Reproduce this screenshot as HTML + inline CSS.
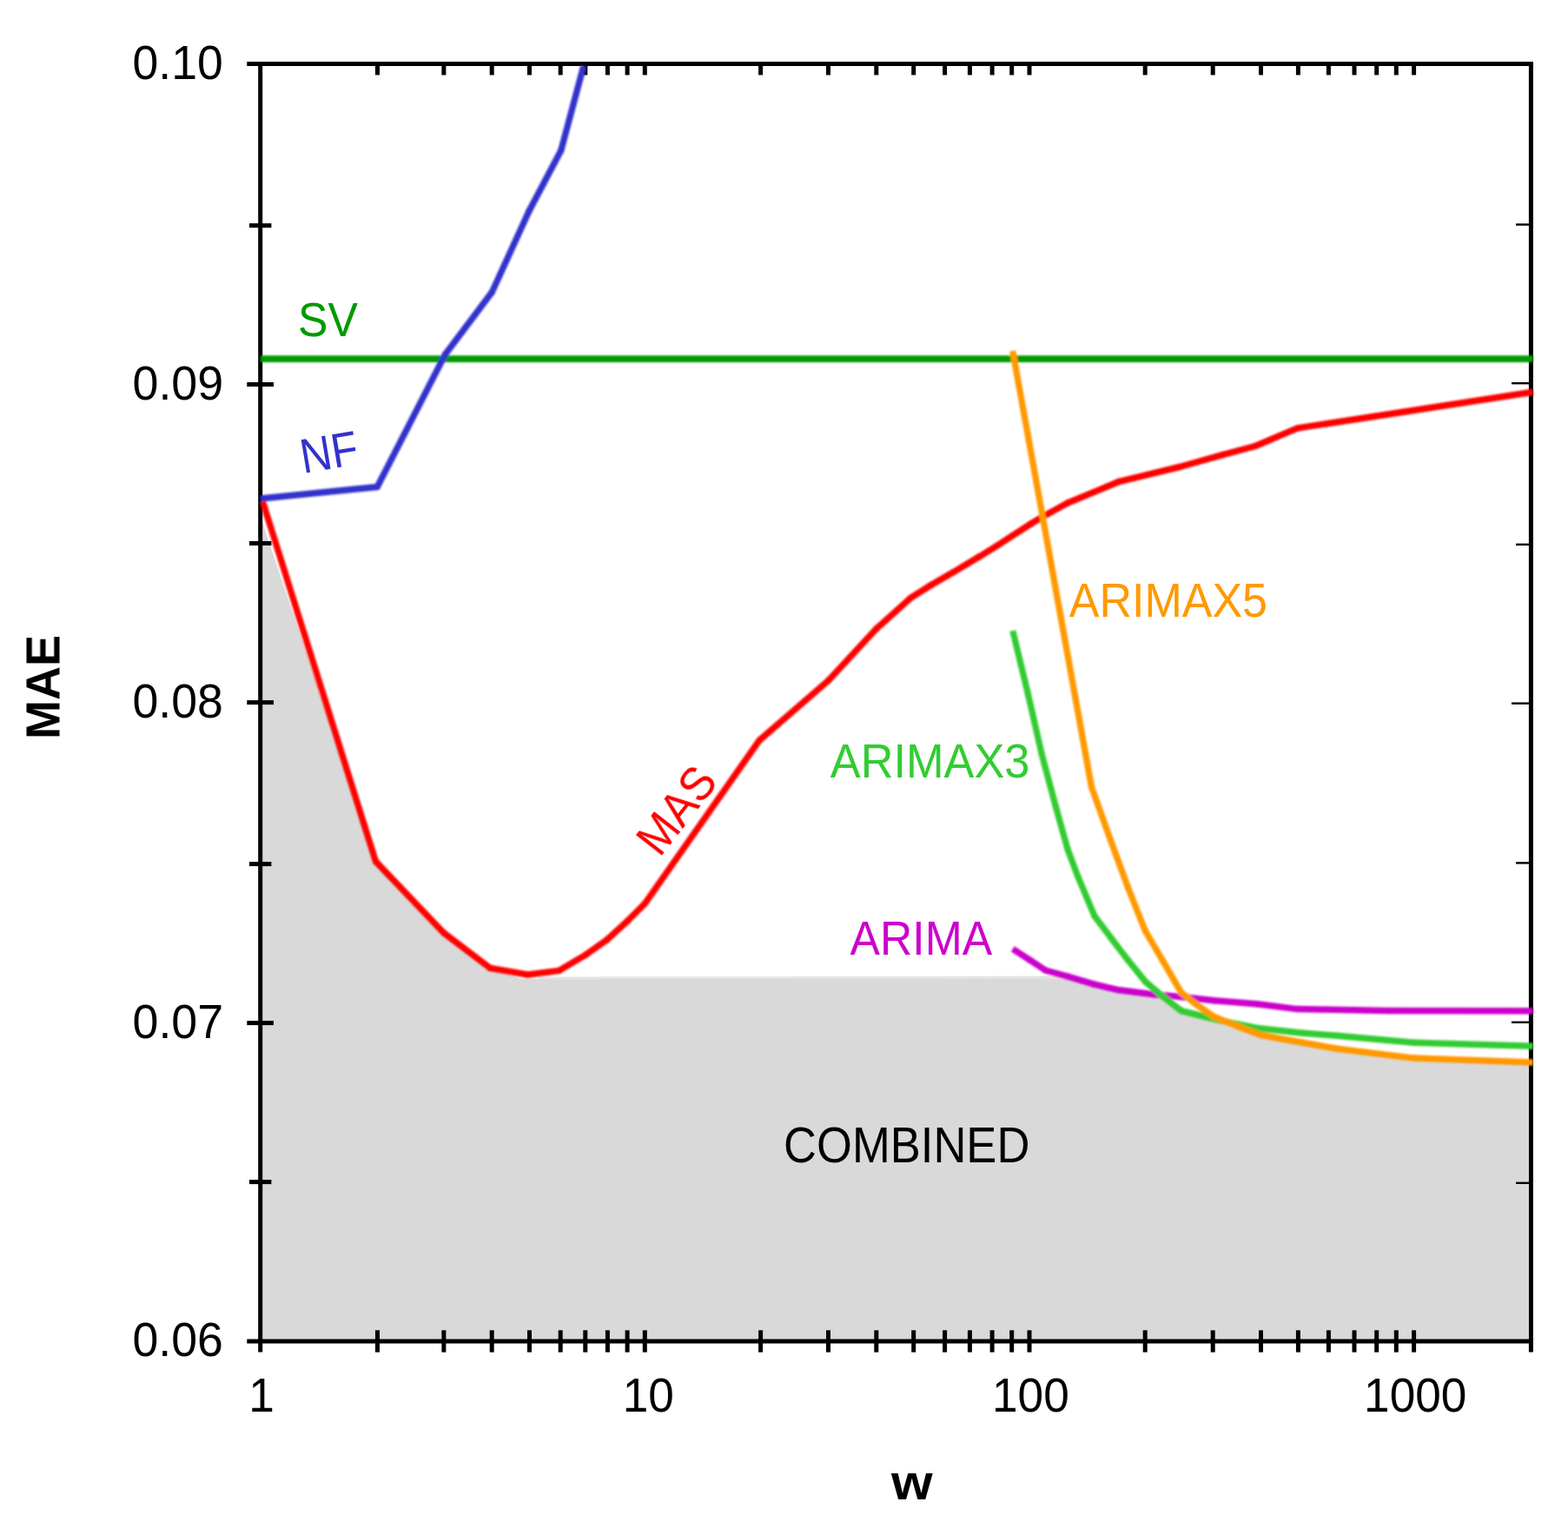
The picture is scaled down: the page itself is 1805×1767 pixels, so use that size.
<!DOCTYPE html>
<html lang="en"><head><meta charset="utf-8"><title>MAE vs w</title>
<style>html,body{margin:0;padding:0;background:#fff;}body{width:1805px;height:1767px;overflow:hidden;}svg{display:block;}text{font-family:"Liberation Sans",Arial,Helvetica,sans-serif;}</style></head><body>
<svg width="1805" height="1767" viewBox="0 0 1805 1767">
<defs><filter id="soft" x="0" y="0" width="1805" height="1767" filterUnits="userSpaceOnUse"><feGaussianBlur stdDeviation="0.60"/></filter><filter id="softer" x="0" y="0" width="1805" height="1767" filterUnits="userSpaceOnUse"><feGaussianBlur stdDeviation="1.10"/></filter></defs>
<rect width="1805" height="1767" fill="#fff"/>
<g filter="url(#soft)">
<polygon points="299.7,594.0 432.5,991.6 510.7,1073.8 564.2,1114.4 600.0,1127.0 1205.0,1127.0 1236.0,1127.0 1258.9,1132.9 1288.6,1139.8 1328.3,1144.8 1338.2,1146.8 1359.9,1163.6 1387.7,1170.5 1397.6,1170.5 1427.3,1182.4 1451.0,1191.3 1476.8,1196.3 1500.0,1200.2 1539.0,1207.2 1628.2,1218.1 1759.5,1223.0 1759.5,1543.9 299.7,1543.9" fill="#d9d9d9"/>
<polygon points="620,1124.6 1205,1123.6 1228,1123.8 1236,1127 620,1127" fill="#e3e3e3"/>
<g stroke="#000" stroke-width="5.0" fill="none">
<line x1="284.3" y1="73.5" x2="1764.9" y2="73.5"/>
<line x1="284.3" y1="1543.9" x2="1764.9" y2="1543.9"/>
<line x1="299.7" y1="73.5" x2="299.7" y2="1556.6"/>
<line x1="1762.4" y1="73.5" x2="1762.4" y2="1556.6"/>
<line x1="434.5" y1="73.5" x2="434.5" y2="86.4"/>
<line x1="434.5" y1="1531.3" x2="434.5" y2="1556.6"/>
<line x1="510.9" y1="73.5" x2="510.9" y2="86.4"/>
<line x1="510.9" y1="1531.3" x2="510.9" y2="1556.6"/>
<line x1="566.2" y1="73.5" x2="566.2" y2="86.4"/>
<line x1="566.2" y1="1531.3" x2="566.2" y2="1556.6"/>
<line x1="609.5" y1="73.5" x2="609.5" y2="86.4"/>
<line x1="609.5" y1="1531.3" x2="609.5" y2="1556.6"/>
<line x1="645.2" y1="73.5" x2="645.2" y2="86.4"/>
<line x1="645.2" y1="1531.3" x2="645.2" y2="1556.6"/>
<line x1="673.8" y1="73.5" x2="673.8" y2="86.4"/>
<line x1="673.8" y1="1531.3" x2="673.8" y2="1556.6"/>
<line x1="699.4" y1="73.5" x2="699.4" y2="86.4"/>
<line x1="699.4" y1="1531.3" x2="699.4" y2="1556.6"/>
<line x1="722.1" y1="73.5" x2="722.1" y2="86.4"/>
<line x1="722.1" y1="1531.3" x2="722.1" y2="1556.6"/>
<line x1="742.3" y1="73.5" x2="742.3" y2="86.4"/>
<line x1="742.3" y1="1531.3" x2="742.3" y2="1556.6"/>
<line x1="875.6" y1="73.5" x2="875.6" y2="86.4"/>
<line x1="875.6" y1="1531.3" x2="875.6" y2="1556.6"/>
<line x1="953.5" y1="73.5" x2="953.5" y2="86.4"/>
<line x1="953.5" y1="1531.3" x2="953.5" y2="1556.6"/>
<line x1="1008.8" y1="73.5" x2="1008.8" y2="86.4"/>
<line x1="1008.8" y1="1531.3" x2="1008.8" y2="1556.6"/>
<line x1="1051.7" y1="73.5" x2="1051.7" y2="86.4"/>
<line x1="1051.7" y1="1531.3" x2="1051.7" y2="1556.6"/>
<line x1="1087.6" y1="73.5" x2="1087.6" y2="86.4"/>
<line x1="1087.6" y1="1531.3" x2="1087.6" y2="1556.6"/>
<line x1="1116.4" y1="73.5" x2="1116.4" y2="86.4"/>
<line x1="1116.4" y1="1531.3" x2="1116.4" y2="1556.6"/>
<line x1="1142.1" y1="73.5" x2="1142.1" y2="86.4"/>
<line x1="1142.1" y1="1531.3" x2="1142.1" y2="1556.6"/>
<line x1="1164.7" y1="73.5" x2="1164.7" y2="86.4"/>
<line x1="1164.7" y1="1531.3" x2="1164.7" y2="1556.6"/>
<line x1="1185.0" y1="73.5" x2="1185.0" y2="86.4"/>
<line x1="1185.0" y1="1531.3" x2="1185.0" y2="1556.6"/>
<line x1="1318.2" y1="73.5" x2="1318.2" y2="86.4"/>
<line x1="1318.2" y1="1531.3" x2="1318.2" y2="1556.6"/>
<line x1="1396.2" y1="73.5" x2="1396.2" y2="86.4"/>
<line x1="1396.2" y1="1531.3" x2="1396.2" y2="1556.6"/>
<line x1="1451.5" y1="73.5" x2="1451.5" y2="86.4"/>
<line x1="1451.5" y1="1531.3" x2="1451.5" y2="1556.6"/>
<line x1="1494.4" y1="73.5" x2="1494.4" y2="86.4"/>
<line x1="1494.4" y1="1531.3" x2="1494.4" y2="1556.6"/>
<line x1="1529.4" y1="73.5" x2="1529.4" y2="86.4"/>
<line x1="1529.4" y1="1531.3" x2="1529.4" y2="1556.6"/>
<line x1="1559.0" y1="73.5" x2="1559.0" y2="86.4"/>
<line x1="1559.0" y1="1531.3" x2="1559.0" y2="1556.6"/>
<line x1="1584.7" y1="73.5" x2="1584.7" y2="86.4"/>
<line x1="1584.7" y1="1531.3" x2="1584.7" y2="1556.6"/>
<line x1="1607.3" y1="73.5" x2="1607.3" y2="86.4"/>
<line x1="1607.3" y1="1531.3" x2="1607.3" y2="1556.6"/>
<line x1="1627.6" y1="73.5" x2="1627.6" y2="86.4"/>
<line x1="1627.6" y1="1531.3" x2="1627.6" y2="1556.6"/>
<line x1="287" y1="259.6" x2="312.4" y2="259.6"/>
<line x1="284.3" y1="442.5" x2="315" y2="442.5"/>
<line x1="287" y1="625.4" x2="312.4" y2="625.4"/>
<line x1="284.3" y1="808.6" x2="315" y2="808.6"/>
<line x1="287" y1="994.6" x2="312.4" y2="994.6"/>
<line x1="284.3" y1="1177.6" x2="315" y2="1177.6"/>
<line x1="287" y1="1360.6" x2="312.4" y2="1360.6"/>
</g>
<g stroke="#000" stroke-width="2.4" fill="none">
<line x1="1745" y1="258.5" x2="1762" y2="258.5"/>
<line x1="1740" y1="441.2" x2="1762" y2="441.2"/>
<line x1="1745" y1="626.8" x2="1762" y2="626.8"/>
<line x1="1740" y1="809.7" x2="1762" y2="809.7"/>
<line x1="1745" y1="993.4" x2="1762" y2="993.4"/>
<line x1="1740" y1="1176.8" x2="1762" y2="1176.8"/>
<line x1="1745" y1="1361.8" x2="1762" y2="1361.8"/>
</g>
</g>
<g filter="url(#softer)">
<line x1="299.7" y1="413.2" x2="1764.8" y2="413.2" stroke="#009900" stroke-width="7.7"/>
<g stroke="#ff0000" fill="none" stroke-linecap="butt">
<line x1="302.4" y1="577.4" x2="432.5" y2="991.6" stroke-width="7.32"/>
<line x1="432.5" y1="991.6" x2="510.7" y2="1073.8" stroke-width="7.40"/>
<line x1="510.7" y1="1073.8" x2="564.2" y2="1114.4" stroke-width="7.43"/>
<line x1="564.2" y1="1114.4" x2="607.5" y2="1122.0" stroke-width="7.49"/>
<line x1="607.5" y1="1122.0" x2="643.4" y2="1117.4" stroke-width="7.50"/>
<line x1="643.4" y1="1117.4" x2="675.1" y2="1098.6" stroke-width="7.45"/>
<line x1="675.1" y1="1098.6" x2="698.8" y2="1081.7" stroke-width="7.43"/>
<line x1="698.8" y1="1081.7" x2="722.6" y2="1059.9" stroke-width="7.41"/>
<line x1="722.6" y1="1059.9" x2="742.4" y2="1040.1" stroke-width="7.40"/>
<line x1="742.4" y1="1040.1" x2="874.0" y2="852.4" stroke-width="7.37"/>
<line x1="874.0" y1="852.4" x2="953.5" y2="783.5" stroke-width="7.41"/>
<line x1="953.5" y1="783.5" x2="1008.8" y2="723.8" stroke-width="7.39"/>
<line x1="1008.8" y1="723.8" x2="1048.1" y2="688.4" stroke-width="7.41"/>
<line x1="1048.1" y1="688.4" x2="1071.8" y2="673.5" stroke-width="7.44"/>
<line x1="1071.8" y1="673.5" x2="1097.6" y2="658.6" stroke-width="7.45"/>
<line x1="1097.6" y1="658.6" x2="1127.3" y2="640.8" stroke-width="7.45"/>
<line x1="1127.3" y1="640.8" x2="1147.1" y2="628.6" stroke-width="7.44"/>
<line x1="1147.1" y1="628.6" x2="1165.5" y2="616.6" stroke-width="7.44"/>
<line x1="1165.5" y1="616.6" x2="1186.7" y2="603.0" stroke-width="7.44"/>
<line x1="1186.7" y1="603.0" x2="1199.6" y2="595.2" stroke-width="7.45"/>
<line x1="1199.6" y1="595.2" x2="1229.0" y2="579.0" stroke-width="7.45"/>
<line x1="1229.0" y1="579.0" x2="1288.4" y2="554.3" stroke-width="7.47"/>
<line x1="1288.4" y1="554.3" x2="1357.8" y2="537.5" stroke-width="7.49"/>
<line x1="1357.8" y1="537.5" x2="1407.3" y2="523.6" stroke-width="7.49"/>
<line x1="1407.3" y1="523.6" x2="1445.0" y2="513.5" stroke-width="7.49"/>
<line x1="1445.0" y1="513.5" x2="1493.5" y2="492.9" stroke-width="7.47"/>
<line x1="1493.5" y1="492.9" x2="1764.8" y2="451.3" stroke-width="7.50"/>
</g>
<g fill="#ff0000">
<circle cx="432.5" cy="991.6" r="3.66"/>
<circle cx="510.7" cy="1073.8" r="3.70"/>
<circle cx="564.2" cy="1114.4" r="3.71"/>
<circle cx="607.5" cy="1122.0" r="3.75"/>
<circle cx="643.4" cy="1117.4" r="3.72"/>
<circle cx="675.1" cy="1098.6" r="3.72"/>
<circle cx="698.8" cy="1081.7" r="3.70"/>
<circle cx="722.6" cy="1059.9" r="3.70"/>
<circle cx="742.4" cy="1040.1" r="3.68"/>
<circle cx="874.0" cy="852.4" r="3.68"/>
<circle cx="953.5" cy="783.5" r="3.70"/>
<circle cx="1008.8" cy="723.8" r="3.70"/>
<circle cx="1048.1" cy="688.4" r="3.71"/>
<circle cx="1071.8" cy="673.5" r="3.72"/>
<circle cx="1097.6" cy="658.6" r="3.72"/>
<circle cx="1127.3" cy="640.8" r="3.72"/>
<circle cx="1147.1" cy="628.6" r="3.72"/>
<circle cx="1165.5" cy="616.6" r="3.72"/>
<circle cx="1186.7" cy="603.0" r="3.72"/>
<circle cx="1199.6" cy="595.2" r="3.72"/>
<circle cx="1229.0" cy="579.0" r="3.73"/>
<circle cx="1288.4" cy="554.3" r="3.74"/>
<circle cx="1357.8" cy="537.5" r="3.74"/>
<circle cx="1407.3" cy="523.6" r="3.74"/>
<circle cx="1445.0" cy="513.5" r="3.73"/>
<circle cx="1493.5" cy="492.9" r="3.73"/>
</g>
<g stroke="#3333cc" fill="none" stroke-linecap="butt">
<line x1="299.7" y1="573.9" x2="434.3" y2="560.5" stroke-width="7.50"/>
<line x1="434.3" y1="560.5" x2="512.5" y2="408.0" stroke-width="7.34"/>
<line x1="512.5" y1="408.0" x2="566.4" y2="336.2" stroke-width="7.37"/>
<line x1="566.4" y1="336.2" x2="609.0" y2="243.0" stroke-width="7.33"/>
<line x1="609.0" y1="243.0" x2="645.8" y2="173.2" stroke-width="7.34"/>
<line x1="645.8" y1="173.2" x2="671.8" y2="76.0" stroke-width="7.31"/>
</g>
<g fill="#3333cc">
<circle cx="434.3" cy="560.5" r="3.67"/>
<circle cx="512.5" cy="408.0" r="3.67"/>
<circle cx="566.4" cy="336.2" r="3.67"/>
<circle cx="609.0" cy="243.0" r="3.67"/>
<circle cx="645.8" cy="173.2" r="3.66"/>
</g>
<g stroke="#cc00cc" fill="none" stroke-linecap="butt">
<line x1="1165.8" y1="1092.3" x2="1185.6" y2="1105.2" stroke-width="7.44"/>
<line x1="1185.6" y1="1105.2" x2="1203.5" y2="1117.0" stroke-width="7.44"/>
<line x1="1203.5" y1="1117.0" x2="1229.2" y2="1124.0" stroke-width="7.49"/>
<line x1="1229.2" y1="1124.0" x2="1258.9" y2="1132.9" stroke-width="7.48"/>
<line x1="1258.9" y1="1132.9" x2="1288.6" y2="1139.8" stroke-width="7.49"/>
<line x1="1288.6" y1="1139.8" x2="1328.3" y2="1144.8" stroke-width="7.50"/>
<line x1="1328.3" y1="1144.8" x2="1361.9" y2="1147.8" stroke-width="7.50"/>
<line x1="1361.9" y1="1147.8" x2="1397.6" y2="1151.7" stroke-width="7.50"/>
<line x1="1397.6" y1="1151.7" x2="1447.1" y2="1155.7" stroke-width="7.50"/>
<line x1="1447.1" y1="1155.7" x2="1493.5" y2="1161.6" stroke-width="7.50"/>
<line x1="1493.5" y1="1161.6" x2="1598.4" y2="1163.6" stroke-width="7.50"/>
<line x1="1598.4" y1="1163.6" x2="1764.8" y2="1163.7" stroke-width="7.50"/>
</g>
<g fill="#cc00cc">
<circle cx="1185.6" cy="1105.2" r="3.72"/>
<circle cx="1203.5" cy="1117.0" r="3.72"/>
<circle cx="1229.2" cy="1124.0" r="3.74"/>
<circle cx="1258.9" cy="1132.9" r="3.74"/>
<circle cx="1288.6" cy="1139.8" r="3.74"/>
<circle cx="1328.3" cy="1144.8" r="3.75"/>
<circle cx="1361.9" cy="1147.8" r="3.75"/>
<circle cx="1397.6" cy="1151.7" r="3.75"/>
<circle cx="1447.1" cy="1155.7" r="3.75"/>
<circle cx="1493.5" cy="1161.6" r="3.75"/>
<circle cx="1598.4" cy="1163.6" r="3.75"/>
</g>
<g stroke="#33cc33" fill="none" stroke-linecap="butt">
<line x1="1165.8" y1="726.0" x2="1183.5" y2="799.2" stroke-width="7.31"/>
<line x1="1183.5" y1="799.2" x2="1199.3" y2="868.5" stroke-width="7.31"/>
<line x1="1199.3" y1="868.5" x2="1215.2" y2="928.0" stroke-width="7.31"/>
<line x1="1215.2" y1="928.0" x2="1229.0" y2="977.5" stroke-width="7.31"/>
<line x1="1229.0" y1="977.5" x2="1240.9" y2="1009.2" stroke-width="7.32"/>
<line x1="1240.9" y1="1009.2" x2="1259.8" y2="1054.2" stroke-width="7.33"/>
<line x1="1259.8" y1="1054.2" x2="1278.7" y2="1079.4" stroke-width="7.37"/>
<line x1="1278.7" y1="1079.4" x2="1298.5" y2="1105.2" stroke-width="7.37"/>
<line x1="1298.5" y1="1105.2" x2="1318.4" y2="1129.9" stroke-width="7.38"/>
<line x1="1318.4" y1="1129.9" x2="1338.2" y2="1146.8" stroke-width="7.42"/>
<line x1="1338.2" y1="1146.8" x2="1359.9" y2="1163.6" stroke-width="7.43"/>
<line x1="1359.9" y1="1163.6" x2="1387.7" y2="1170.5" stroke-width="7.49"/>
<line x1="1387.7" y1="1170.5" x2="1417.4" y2="1177.5" stroke-width="7.49"/>
<line x1="1417.4" y1="1177.5" x2="1447.1" y2="1183.4" stroke-width="7.49"/>
<line x1="1447.1" y1="1183.4" x2="1500.0" y2="1189.3" stroke-width="7.50"/>
<line x1="1500.0" y1="1189.3" x2="1539.0" y2="1192.3" stroke-width="7.50"/>
<line x1="1539.0" y1="1192.3" x2="1628.2" y2="1200.2" stroke-width="7.50"/>
<line x1="1628.2" y1="1200.2" x2="1764.8" y2="1204.2" stroke-width="7.50"/>
</g>
<g fill="#33cc33">
<circle cx="1183.5" cy="799.2" r="3.65"/>
<circle cx="1199.3" cy="868.5" r="3.65"/>
<circle cx="1215.2" cy="928.0" r="3.66"/>
<circle cx="1229.0" cy="977.5" r="3.66"/>
<circle cx="1240.9" cy="1009.2" r="3.66"/>
<circle cx="1259.8" cy="1054.2" r="3.66"/>
<circle cx="1278.7" cy="1079.4" r="3.69"/>
<circle cx="1298.5" cy="1105.2" r="3.69"/>
<circle cx="1318.4" cy="1129.9" r="3.69"/>
<circle cx="1338.2" cy="1146.8" r="3.71"/>
<circle cx="1359.9" cy="1163.6" r="3.71"/>
<circle cx="1387.7" cy="1170.5" r="3.74"/>
<circle cx="1417.4" cy="1177.5" r="3.74"/>
<circle cx="1447.1" cy="1183.4" r="3.75"/>
<circle cx="1500.0" cy="1189.3" r="3.75"/>
<circle cx="1539.0" cy="1192.3" r="3.75"/>
<circle cx="1628.2" cy="1200.2" r="3.75"/>
</g>
<g stroke="#ff9900" fill="none" stroke-linecap="butt">
<line x1="1165.7" y1="403.8" x2="1256.5" y2="906.0" stroke-width="7.31"/>
<line x1="1256.5" y1="906.0" x2="1278.6" y2="967.6" stroke-width="7.32"/>
<line x1="1278.6" y1="967.6" x2="1298.4" y2="1021.5" stroke-width="7.32"/>
<line x1="1298.4" y1="1021.5" x2="1318.3" y2="1071.5" stroke-width="7.33"/>
<line x1="1318.3" y1="1071.5" x2="1338.1" y2="1105.2" stroke-width="7.35"/>
<line x1="1338.1" y1="1105.2" x2="1359.9" y2="1142.8" stroke-width="7.35"/>
<line x1="1359.9" y1="1142.8" x2="1377.8" y2="1156.7" stroke-width="7.42"/>
<line x1="1377.8" y1="1156.7" x2="1397.6" y2="1170.5" stroke-width="7.43"/>
<line x1="1397.6" y1="1170.5" x2="1427.3" y2="1182.4" stroke-width="7.47"/>
<line x1="1427.3" y1="1182.4" x2="1451.0" y2="1191.3" stroke-width="7.48"/>
<line x1="1451.0" y1="1191.3" x2="1476.8" y2="1196.3" stroke-width="7.49"/>
<line x1="1476.8" y1="1196.3" x2="1500.0" y2="1200.2" stroke-width="7.49"/>
<line x1="1500.0" y1="1200.2" x2="1539.0" y2="1207.2" stroke-width="7.49"/>
<line x1="1539.0" y1="1207.2" x2="1628.2" y2="1218.1" stroke-width="7.50"/>
<line x1="1628.2" y1="1218.1" x2="1764.8" y2="1223.0" stroke-width="7.50"/>
</g>
<g fill="#ff9900">
<circle cx="1256.5" cy="906.0" r="3.65"/>
<circle cx="1278.6" cy="967.6" r="3.66"/>
<circle cx="1298.4" cy="1021.5" r="3.66"/>
<circle cx="1318.3" cy="1071.5" r="3.66"/>
<circle cx="1338.1" cy="1105.2" r="3.68"/>
<circle cx="1359.9" cy="1142.8" r="3.68"/>
<circle cx="1377.8" cy="1156.7" r="3.71"/>
<circle cx="1397.6" cy="1170.5" r="3.72"/>
<circle cx="1427.3" cy="1182.4" r="3.74"/>
<circle cx="1451.0" cy="1191.3" r="3.74"/>
<circle cx="1476.8" cy="1196.3" r="3.75"/>
<circle cx="1500.0" cy="1200.2" r="3.75"/>
<circle cx="1539.0" cy="1207.2" r="3.75"/>
<circle cx="1628.2" cy="1218.1" r="3.75"/>
</g>
</g>
<g filter="url(#soft)">
<text transform="matrix(0.9911 0 0 1.0300 152.52 91.00)" x="0" y="0" font-size="54" font-weight="normal" fill="#000">0.10</text>
<text transform="matrix(0.9960 0 0 1.0300 152.51 460.00)" x="0" y="0" font-size="54" font-weight="normal" fill="#000">0.09</text>
<text transform="matrix(0.9935 0 0 1.0300 152.51 826.20)" x="0" y="0" font-size="54" font-weight="normal" fill="#000">0.08</text>
<text transform="matrix(0.9950 0 0 1.0300 152.51 1195.10)" x="0" y="0" font-size="54" font-weight="normal" fill="#000">0.07</text>
<text transform="matrix(0.9935 0 0 1.0300 152.51 1561.20)" x="0" y="0" font-size="54" font-weight="normal" fill="#000">0.06</text>
<text transform="matrix(0.9850 0 0 1.0300 286.36 1625.20)" x="0" y="0" font-size="54" font-weight="normal" fill="#000">1</text>
<text transform="matrix(0.9850 0 0 1.0300 716.77 1625.20)" x="0" y="0" font-size="54" font-weight="normal" fill="#000">10</text>
<text transform="matrix(0.9850 0 0 1.0300 1142.02 1625.20)" x="0" y="0" font-size="54" font-weight="normal" fill="#000">100</text>
<text transform="matrix(0.9850 0 0 1.0300 1570.07 1625.20)" x="0" y="0" font-size="54" font-weight="normal" fill="#000">1000</text>
<text transform="matrix(0.9736 0 0 1.0450 902.12 1337.90)" x="0" y="0" font-size="54" font-weight="normal" fill="#000">COMBINED</text>
<text transform="matrix(0.9574 0 0 1.0450 343.01 387.10)" x="0" y="0" font-size="54" font-weight="normal" fill="#009900">SV</text>
<text transform="matrix(0.9689 0 0 1.0450 955.76 895.00)" x="0" y="0" font-size="54" font-weight="normal" fill="#33cc33">ARIMAX3</text>
<text transform="matrix(0.9629 0 0 1.0450 1230.76 709.70)" x="0" y="0" font-size="54" font-weight="normal" fill="#ff9900">ARIMAX5</text>
<text transform="matrix(0.9572 0 0 1.0450 978.56 1098.60)" x="0" y="0" font-size="54" font-weight="normal" fill="#cc00cc">ARIMA</text>
<text transform="matrix(1.1333 0 0 1.0450 1026.00 1726.30)" x="0" y="0" font-size="54" font-weight="bold" fill="#000">w</text>
<text transform="translate(378.5,520) rotate(-9.5) scale(0.925,1.04)" x="0" y="19" font-size="54" text-anchor="middle" fill="#3333cc">NF</text>
<text transform="translate(778,932) rotate(-52) scale(0.95,1.04)" x="0" y="19" font-size="54" text-anchor="middle" fill="#ff0000">MAS</text>
<text transform="translate(68,791) rotate(-90) scale(1,1.03)" x="0" y="0" font-size="54" font-weight="bold" text-anchor="middle" fill="#000">MAE</text>
</g>
</svg></body></html>
